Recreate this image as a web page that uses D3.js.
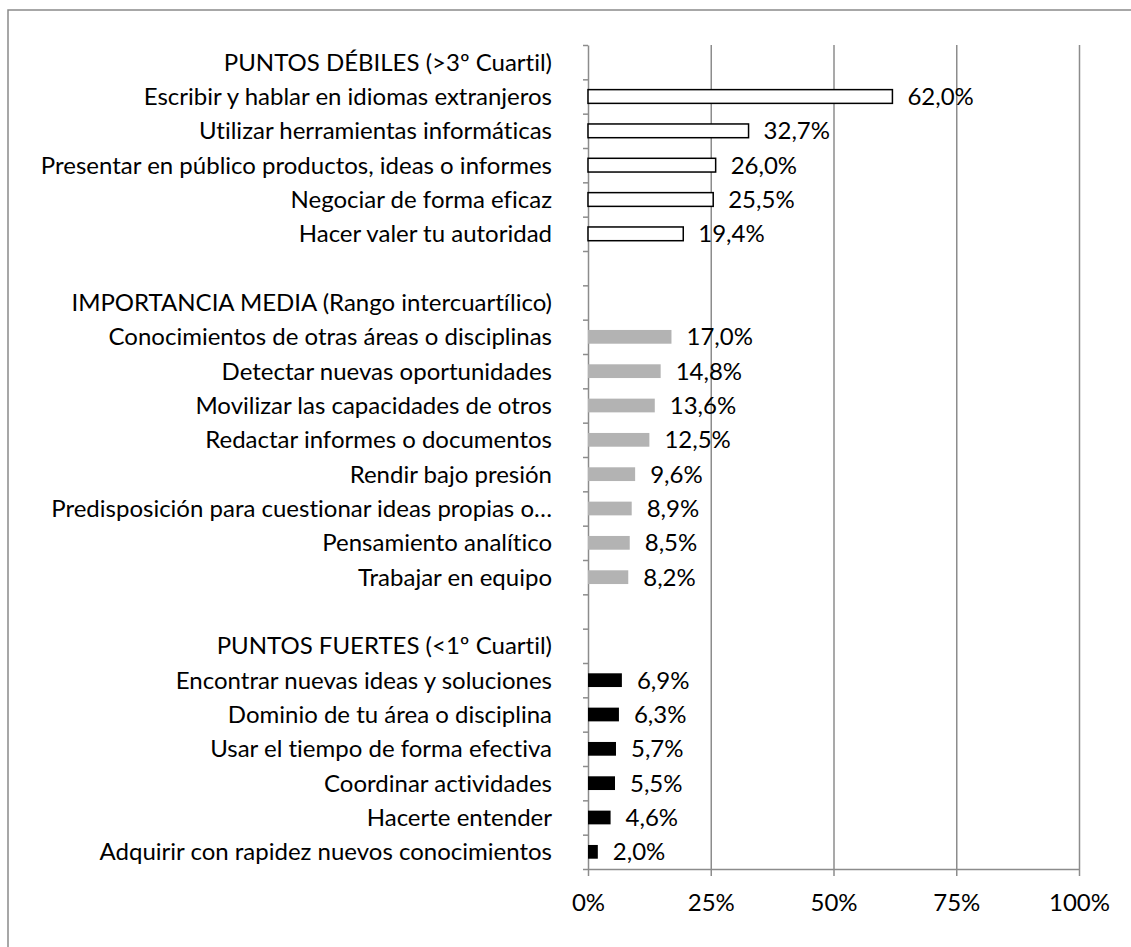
<!DOCTYPE html>
<html>
<head>
<meta charset="utf-8">
<script src="https://cdn.jsdelivr.net/npm/d3@7"></script>
<style>
  html, body { margin: 0; padding: 0; background: #fff; }
  svg { display: block; font-family: Lato, "Open Sans", sans-serif; font-variant-ligatures: none; }
</style>
</head>
<body>
<svg id="chart" width="1131" height="947"></svg>
<script>
// Group headers and the three blocks of skills, top to bottom
const headers = [
  "PUNTOS DÉBILES (>3º Cuartil)",
  "IMPORTANCIA MEDIA (Rango intercuartílico)",
  "PUNTOS FUERTES (<1º Cuartil)"
];

const weakLabels = [
  "Escribir y hablar en idiomas extranjeros",
  "Utilizar herramientas informáticas",
  "Presentar en público productos, ideas o informes",
  "Negociar de forma eficaz",
  "Hacer valer tu autoridad"
];
const weakValues = [0.620, 0.327, 0.260, 0.255, 0.194];

const midLabels = [
  "Conocimientos de otras áreas o disciplinas",
  "Detectar nuevas oportunidades",
  "Movilizar las capacidades de otros",
  "Redactar informes o documentos",
  "Rendir bajo presión",
  "Predisposición para cuestionar ideas propias o…",
  "Pensamiento analítico",
  "Trabajar en equipo"
];
const midValues = [0.170, 0.148, 0.136, 0.125, 0.096, 0.089, 0.085, 0.082];

const strongLabels = [
  "Encontrar nuevas ideas y soluciones",
  "Dominio de tu área o disciplina",
  "Usar el tiempo de forma efectiva",
  "Coordinar actividades",
  "Hacerte entender",
  "Adquirir con rapidez nuevos conocimientos"
];
const strongValues = [0.069, 0.063, 0.057, 0.055, 0.046, 0.020];

const xTicks = [0, 0.25, 0.5, 0.75, 1];

// rows of the category axis (header, items, blank spacer ...)
const groups = [
  { header: headers[0], labels: weakLabels, values: weakValues, kind: "weak" },
  { header: headers[1], labels: midLabels, values: midValues, kind: "mid" },
  { header: headers[2], labels: strongLabels, values: strongValues, kind: "strong" }
];
const rows = [];
groups.forEach((g, gi) => {
  if (gi > 0) rows.push({ label: "", value: null, kind: null });
  rows.push({ label: g.header, value: null, kind: null });
  g.labels.forEach((l, i) => rows.push({ label: l, value: g.values[i], kind: g.kind }));
});
rows.forEach((r, i) => r.id = i);

const width = 1131, height = 947;
const margin = { top: 45, right: 52, bottom: 78, left: 588 };
const innerWidth = width - margin.left - margin.right;
const innerHeight = height - margin.top - margin.bottom;

const gridColor = "#8c8c8c";
const fontSize = 24;

const svg = d3.select("#chart");

// outer frame: only the left and top edges fall inside the picture
svg.append("path")
  .attr("d", `M8,${height} V10 H${width}`)
  .attr("fill", "none").attr("stroke", "#8a8a8a").attr("stroke-width", 1.5);

const inner = svg.append("g")
  .attr("transform", `translate(${margin.left}, ${margin.top})`);

const x = d3.scaleLinear().domain([0, 1]).range([0, innerWidth]);

const yRows = d3.scaleBand()
  .domain(rows.map(r => r.id))
  .range([0, innerHeight]);

const yBars = d3.scaleBand()
  .domain(rows.map(r => r.id))
  .range([0, innerHeight])
  .paddingInner(0.6).paddingOuter(0.3);

const yEdges = d3.scaleLinear().domain([0, rows.length]).range([0, innerHeight]);

// vertical gridlines
inner.append("g")
  .attr("class", "grid")
  .call(d3.axisBottom(x).tickValues(xTicks.slice(1)).tickSize(innerHeight).tickFormat(""))
  .call(g => g.select(".domain").remove())
  .call(g => g.selectAll("line").attr("stroke", gridColor).attr("stroke-width", 1.5));

// bottom axis
inner.append("g")
  .attr("transform", `translate(0, ${innerHeight})`)
  .call(d3.axisBottom(x).tickValues(xTicks).tickFormat(d3.format(".0%")).tickSize(7).tickSizeOuter(0).tickPadding(18))
  .call(g => g.select(".domain").attr("stroke", gridColor).attr("stroke-width", 1.5))
  .call(g => g.selectAll("line").attr("stroke", gridColor).attr("stroke-width", 1.5))
  .call(g => g.selectAll("text").attr("font-size", fontSize).attr("font-family", "Lato").attr("fill", "#000"));

// left axis: ticks between categories
inner.append("g")
  .call(d3.axisLeft(yEdges).tickValues(d3.range(rows.length + 1)).tickFormat("").tickSize(5).tickSizeOuter(0))
  .call(g => g.select(".domain").attr("stroke", gridColor).attr("stroke-width", 1.5))
  .call(g => g.selectAll("line").attr("stroke", gridColor).attr("stroke-width", 1.5));

// category labels
inner.append("g")
  .selectAll("text")
  .data(rows.filter(r => r.label))
  .join("text")
  .attr("x", -36)
  .attr("y", d => yRows(d.id) + yRows.bandwidth() / 2)
  .attr("dy", "0.35em")
  .attr("text-anchor", "end")
  .attr("font-size", fontSize)
  .attr("fill", "#000")
  .text(d => d.label);

// bars
const fills = { weak: "#fff", mid: "#b3b3b3", strong: "#000" };
const barRows = rows.filter(r => r.value !== null);

inner.append("g")
  .selectAll("rect")
  .data(barRows)
  .join("rect")
  .attr("x", 0)
  .attr("y", d => yBars(d.id))
  .attr("width", d => x(d.value))
  .attr("height", yBars.bandwidth())
  .attr("fill", d => fills[d.kind])
  .attr("stroke", d => d.kind === "weak" ? "#000" : "none")
  .attr("stroke-width", 1.5);

// value labels
const fmt = d3.formatLocale({ decimal: ",", thousands: ".", grouping: [3], currency: ["", "€"] }).format(".1%");

inner.append("g")
  .selectAll("text")
  .data(barRows)
  .join("text")
  .attr("x", d => x(d.value) + 15)
  .attr("y", d => yRows(d.id) + yRows.bandwidth() / 2)
  .attr("dy", "0.35em")
  .attr("font-size", fontSize)
  .attr("fill", "#000")
  .text(d => fmt(d.value));
</script>
</body>
</html>
